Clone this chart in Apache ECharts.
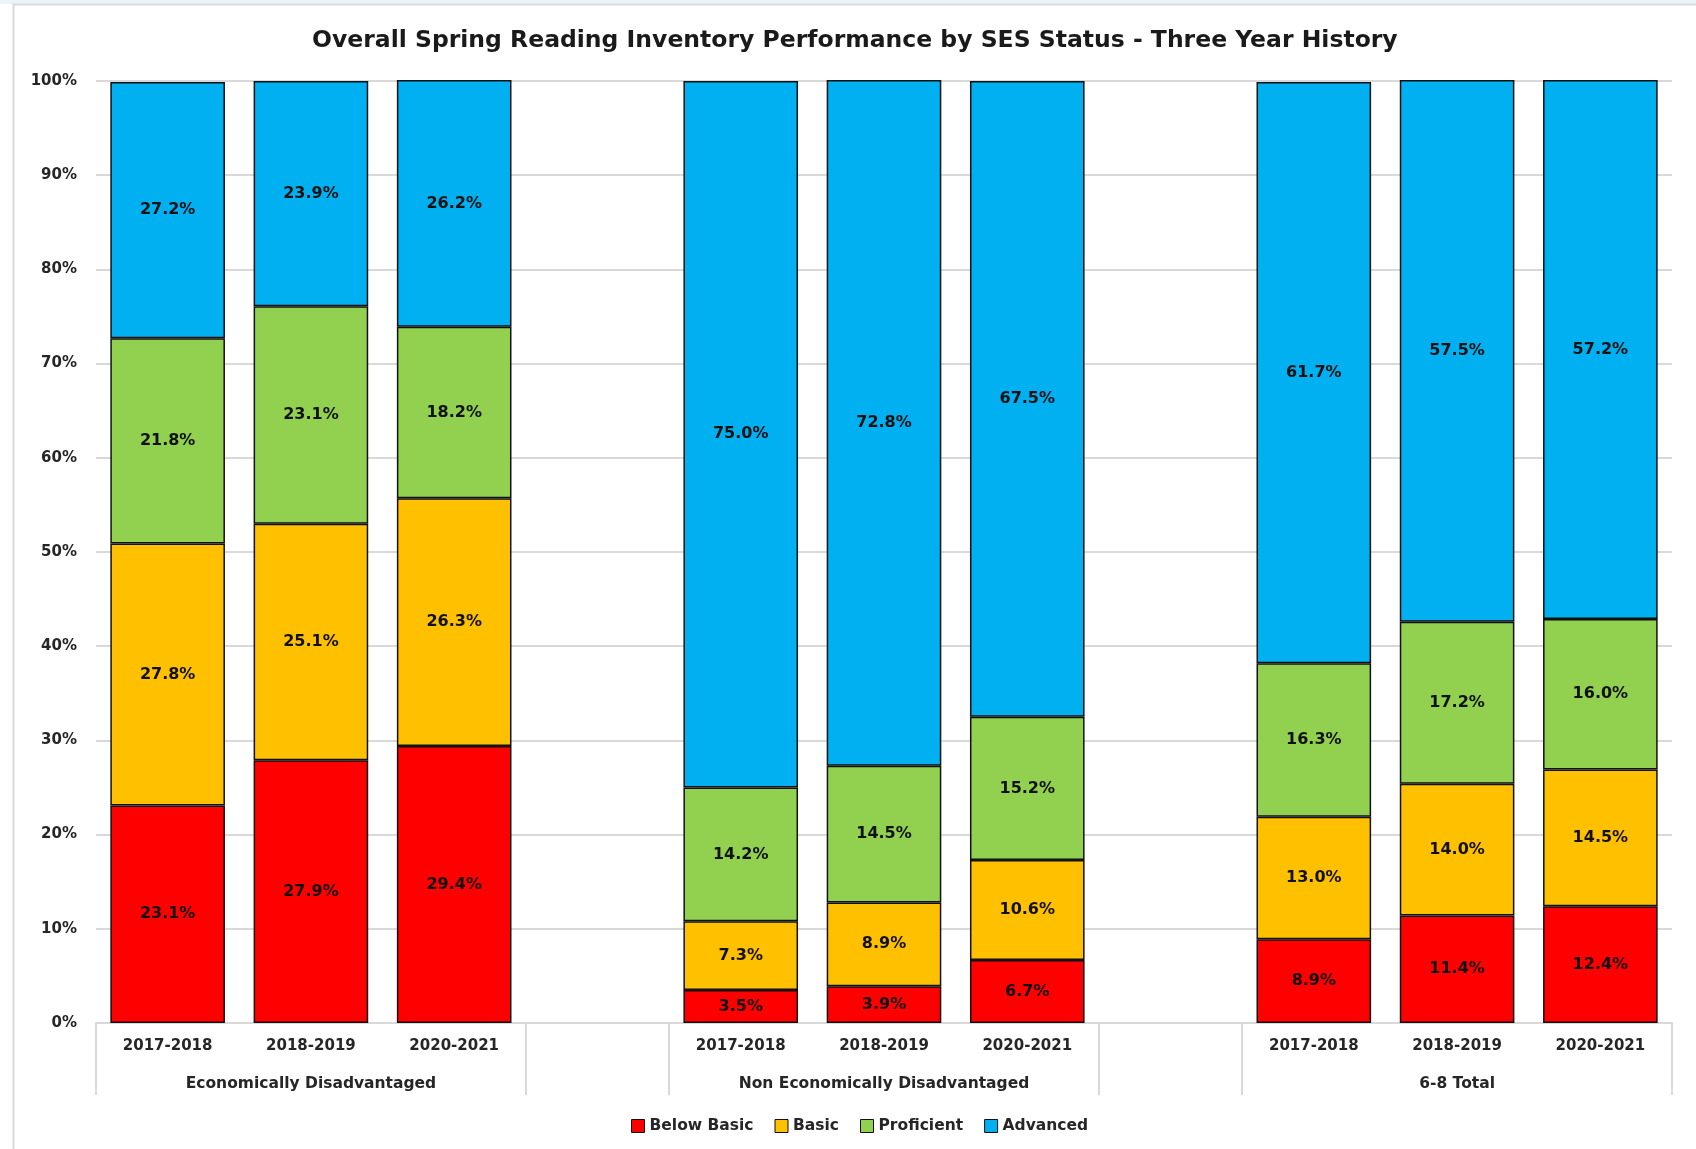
<!DOCTYPE html>
<html>
<head>
<meta charset="utf-8">
<script src="https://cdn.jsdelivr.net/npm/echarts@6/dist/echarts.min.js"></script>
<style>
  html, body { margin: 0; padding: 0; background: #ffffff; }
  #chart { width: 1696px; height: 1149px; }
</style>
</head>
<body>
<div id="chart"></div>
<script>
// ---- Data ----
const titleText = 'Overall Spring Reading Inventory Performance by SES Status - Three Year History';
const years = ['2017-2018', '2018-2019', '2020-2021', '', '2017-2018', '2018-2019', '2020-2021', '', '2017-2018', '2018-2019', '2020-2021'];
const groupLabels = ['', 'Economically Disadvantaged', '', '', '', 'Non Economically Disadvantaged', '', '', '', '6-8 Total', ''];
const groupBoundaries = [0, 3, 4, 7, 8];
const seriesNames = ['Below Basic', 'Basic', 'Proficient', 'Advanced'];
const belowBasic = [23.1, 27.9, 29.4, null, 3.5, 3.9, 6.7, null, 8.9, 11.4, 12.4];
const basic      = [27.8, 25.1, 26.3, null, 7.3, 8.9, 10.6, null, 13.0, 14.0, 14.5];
const proficient = [21.8, 23.1, 18.2, null, 14.2, 14.5, 15.2, null, 16.3, 17.2, 16.0];
const advanced   = [27.2, 23.9, 26.2, null, 75.0, 72.8, 67.5, null, 61.7, 57.5, 57.2];
const yTicks = { min: 0, max: 100, interval: 10 };

// ---- Styles ----
const colors = ['#FF0000', '#FFC000', '#92D050', '#00B0F0'];
const FONT = '"DejaVu Sans", sans-serif';
const TXT = '#262626';

const chart = echarts.init(document.getElementById('chart'), null, { renderer: 'canvas' });

const seriesData = [belowBasic, basic, proficient, advanced];
const series = seriesNames.map((name, i) => ({
  name: name,
  type: 'bar',
  stack: 'total',
  barCategoryGap: '20%',
  clip: false,
  data: seriesData[i],
  itemStyle: { color: colors[i], borderColor: '#111', borderWidth: 1.5 },
  label: {
    show: true,
    position: 'inside',
    formatter: p => (p.value == null ? '' : Number(p.value).toFixed(1) + '%'),
    fontFamily: FONT,
    fontWeight: 'bold',
    fontSize: 16,
    color: '#111'
  },
  emphasis: { disabled: true }
}));

chart.setOption({
  animation: false,
  backgroundColor: '#ffffff',
  graphic: [
    { type: 'rect', z: -10, shape: { x: 0, y: 0, width: 1696, height: 4 }, style: { fill: '#EAF4FB' } },
    { type: 'rect', z: -10, shape: { x: 13.5, y: 4.5, width: 1720, height: 1200 }, style: { fill: 'none', stroke: '#D9D9D9', lineWidth: 2 } }
  ],
  title: {
    text: titleText,
    left: 307,
    top: 24,
    padding: 5,
    textStyle: { fontFamily: FONT, fontWeight: 'bold', fontSize: 23.5, color: '#1a1a1a' }
  },
  legend: {
    data: seriesNames,
    bottom: 10,
    left: 626,
    padding: 5,
    icon: 'rect',
    itemWidth: 13,
    itemHeight: 13,
    itemGap: 21,
    itemStyle: { borderColor: '#111', borderWidth: 1 },
    textStyle: { fontFamily: FONT, fontWeight: 'bold', fontSize: 15.5, color: TXT }
  },
  grid: { left: 96, right: 24, top: 81, bottom: 126, containLabel: false },
  xAxis: [
    {
      type: 'category',
      data: years,
      position: 'bottom',
      axisLine: { show: true, lineStyle: { color: '#D9D9D9', width: 2 } },
      axisTick: {
        show: true,
        length: 72,
        interval: (idx) => groupBoundaries.indexOf(idx) >= 0,
        lineStyle: { color: '#D9D9D9', width: 2 }
      },
      axisLabel: { interval: 0, margin: 16, fontFamily: FONT, fontWeight: 'bold', fontSize: 15, color: TXT }
    },
    {
      type: 'category',
      data: groupLabels,
      position: 'bottom',
      axisLine: { show: false },
      axisTick: { show: false },
      axisLabel: { interval: 0, margin: 53, fontFamily: FONT, fontWeight: 'bold', fontSize: 15.5, color: TXT }
    }
  ],
  yAxis: {
    type: 'value',
    min: yTicks.min,
    max: yTicks.max,
    interval: yTicks.interval,
    axisLine: { show: false },
    axisTick: { show: false },
    splitLine: { show: true, lineStyle: { color: '#D9D9D9', width: 2 } },
    axisLabel: { formatter: '{value}%', margin: 19, fontFamily: FONT, fontWeight: 'bold', fontSize: 15, color: TXT }
  },
  series: series
});
</script>
</body>
</html>
